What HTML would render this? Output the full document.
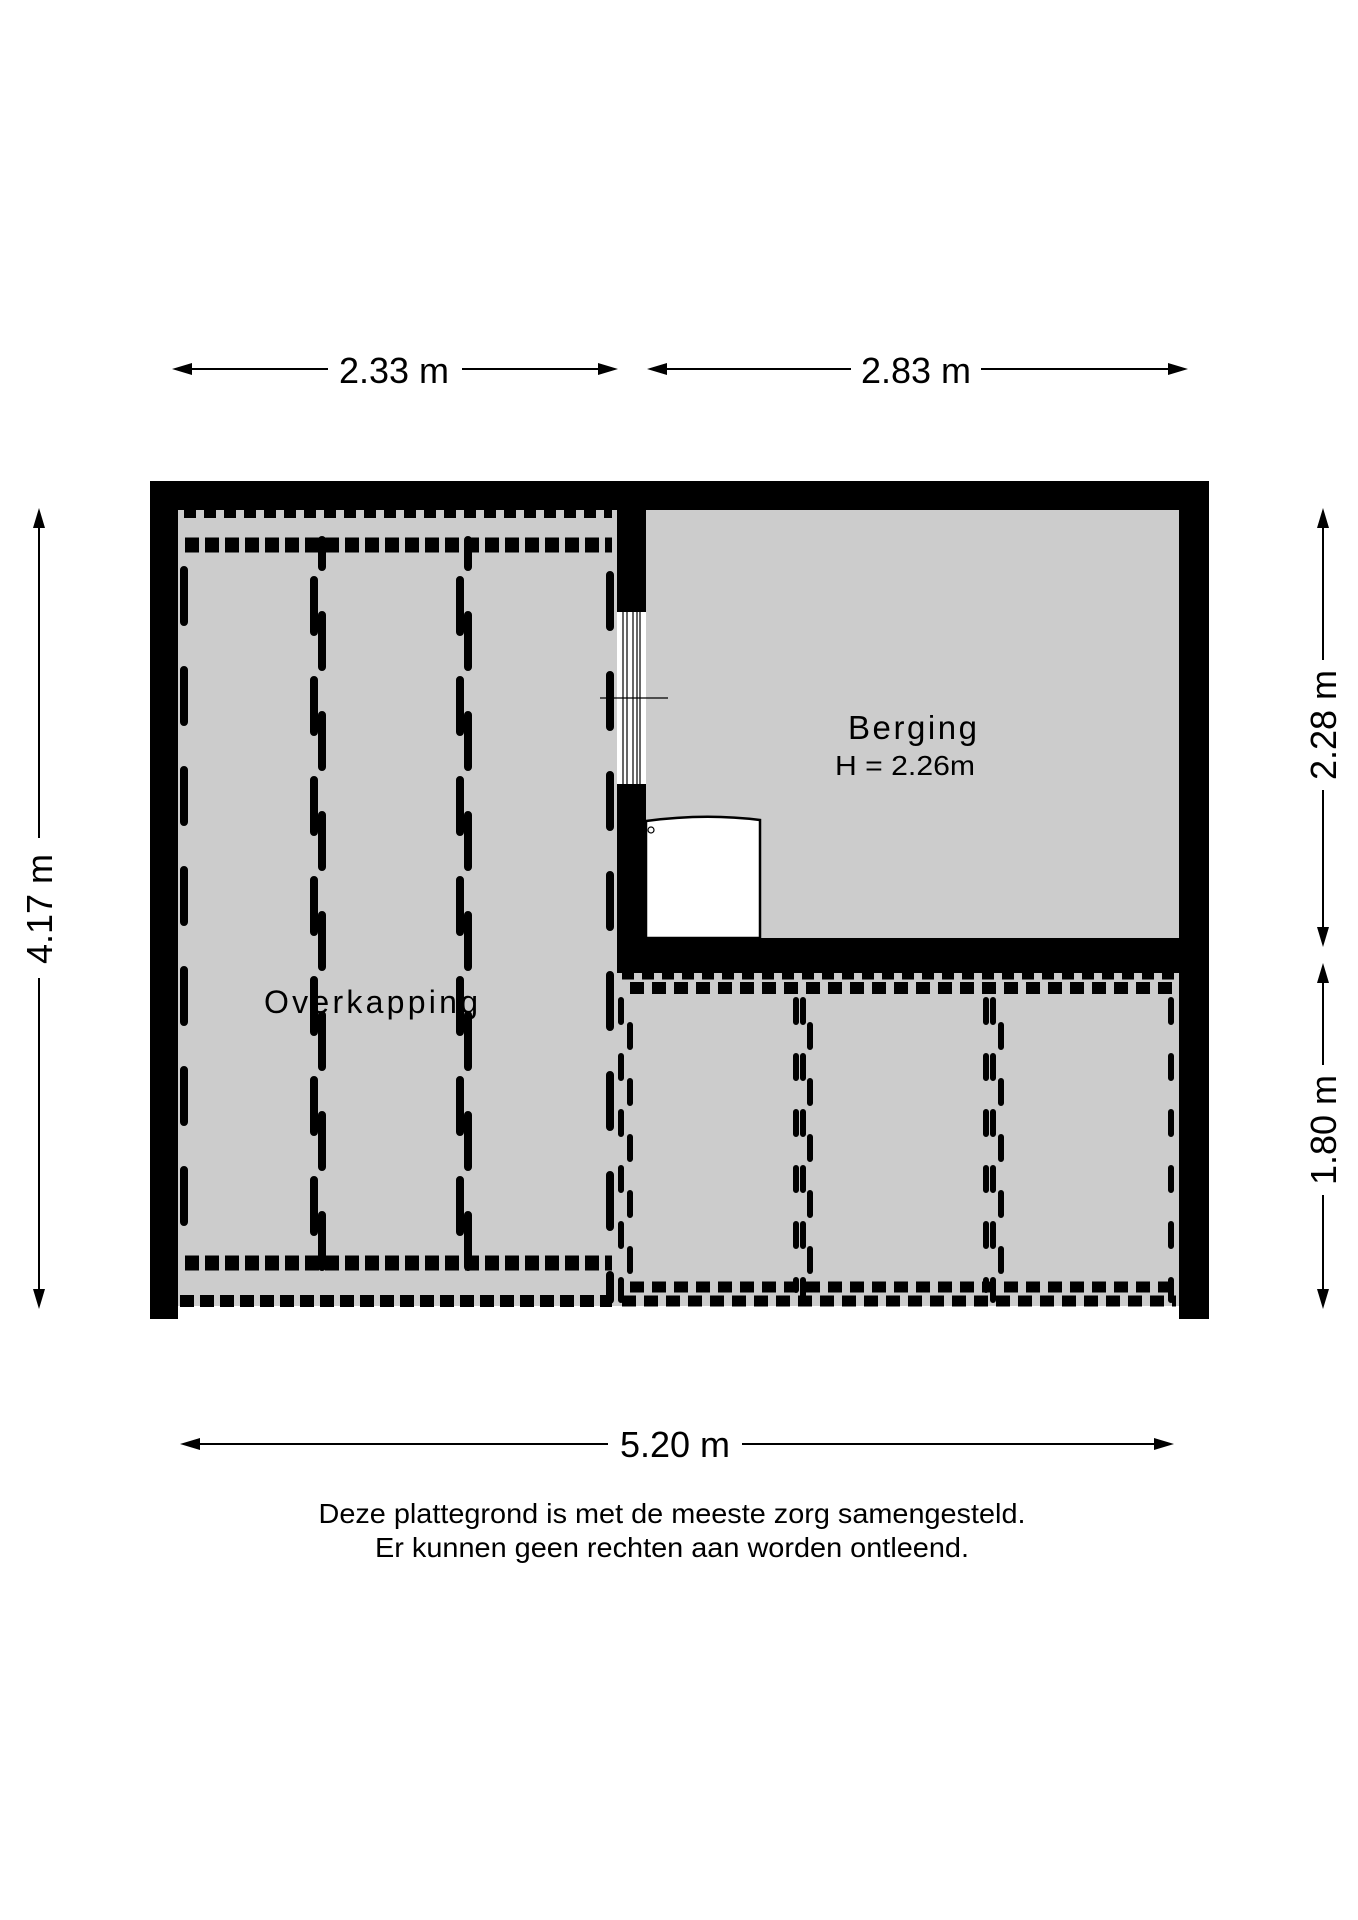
<!DOCTYPE html>
<html><head><meta charset="utf-8"><style>
html,body{margin:0;padding:0;background:#fff;}
svg{display:block;}
text{font-family:"Liberation Sans",sans-serif;fill:#000;}
</style></head><body>
<svg width="1358" height="1920" viewBox="0 0 1358 1920" xmlns="http://www.w3.org/2000/svg">
<!-- outer walls -->
<rect x="150" y="481" width="1059" height="29" fill="#000"/>
<rect x="150" y="481" width="28" height="838" fill="#000"/>
<rect x="1179" y="481" width="30" height="838" fill="#000"/>
<!-- gray floors -->
<rect x="178" y="510" width="439" height="796" fill="#cccccc"/>
<rect x="617" y="973" width="562" height="333" fill="#cccccc"/>
<rect x="646" y="510" width="533" height="428" fill="#cccccc"/>
<!-- interior walls -->
<rect x="617" y="481" width="29" height="492" fill="#000"/>
<rect x="617" y="938" width="592" height="35" fill="#000"/>
<!-- window -->
<rect x="617" y="612" width="29" height="172" fill="#fff"/>
<g stroke="#000" stroke-width="1.2">
<line x1="623" y1="612" x2="623" y2="784"/><line x1="627" y1="612" x2="627" y2="784"/>
<line x1="633" y1="612" x2="633" y2="784"/><line x1="637" y1="612" x2="637" y2="784"/>
<line x1="640" y1="612" x2="640" y2="784"/>
<line x1="600" y1="698" x2="668" y2="698"/>
</g>
<!-- door box -->
<path d="M646 821 Q705 813 760 820 L760 938 L646 938 Z" fill="#fff" stroke="#000" stroke-width="2.5"/>
<circle cx="651" cy="830" r="3" fill="#fff" stroke="#000" stroke-width="1.2"/>
<!-- dashed pattern left -->
<g stroke="#000" fill="none">
<line x1="184" y1="514" x2="612" y2="514" stroke-width="8" stroke-dasharray="12 8"/>
<line x1="185" y1="545" x2="612" y2="545" stroke-width="15" stroke-dasharray="14 6"/>
<line x1="185" y1="1263" x2="612" y2="1263" stroke-width="15" stroke-dasharray="14 6"/>
<line x1="180" y1="1301" x2="612" y2="1301" stroke-width="12" stroke-dasharray="14 6"/>
<g stroke-width="8" stroke-linecap="round" stroke-dasharray="52 48">
<line x1="184" y1="570" x2="184" y2="1250"/>
<line x1="314" y1="575" x2="314" y2="1250" stroke-dashoffset="-5"/>
<line x1="322" y1="540" x2="322" y2="1300" stroke-dashoffset="25"/>
<line x1="460" y1="575" x2="460" y2="1250" stroke-dashoffset="-5"/>
<line x1="468" y1="540" x2="468" y2="1300" stroke-dashoffset="25"/>
<line x1="610" y1="575" x2="610" y2="1300"/>
</g>
</g>
<!-- dashed pattern lower right -->
<g stroke="#000" fill="none">
<line x1="622" y1="976" x2="1179" y2="976" stroke-width="7" stroke-dasharray="12 8"/>
<line x1="630" y1="988" x2="1172" y2="988" stroke-width="12" stroke-dasharray="14 8"/>
<line x1="630" y1="1287" x2="1172" y2="1287" stroke-width="11" stroke-dasharray="14 8"/>
<line x1="622" y1="1301" x2="1176" y2="1301" stroke-width="11" stroke-dasharray="14 8"/>
<g stroke-width="6" stroke-linecap="round" stroke-dasharray="22 34">
<line x1="621" y1="1000" x2="621" y2="1300"/>
<line x1="630" y1="1025" x2="630" y2="1290"/>
<line x1="796" y1="1000" x2="796" y2="1290"/>
<line x1="803" y1="1000" x2="803" y2="1300"/>
<line x1="810" y1="1025" x2="810" y2="1290"/>
<line x1="986" y1="1000" x2="986" y2="1290"/>
<line x1="993" y1="1000" x2="993" y2="1300"/>
<line x1="1001" y1="1025" x2="1001" y2="1290"/>
<line x1="1171" y1="1000" x2="1171" y2="1300"/>
</g>
</g>
<!-- labels -->
<text x="848" y="739" font-size="33" textLength="129" lengthAdjust="spacing">Berging</text>
<text x="835" y="775" font-size="28" textLength="140" lengthAdjust="spacingAndGlyphs">H = 2.26m</text>
<text x="264" y="1013" font-size="32" textLength="214" lengthAdjust="spacing">Overkapping</text>
<!-- dimension lines -->
<g stroke="#000" stroke-width="2">
<line x1="180" y1="369" x2="328" y2="369"/><line x1="462" y1="369" x2="610" y2="369"/>
<line x1="655" y1="369" x2="851" y2="369"/><line x1="981" y1="369" x2="1180" y2="369"/>
<line x1="188" y1="1444" x2="608" y2="1444"/><line x1="742" y1="1444" x2="1166" y2="1444"/>
<line x1="39" y1="518" x2="39" y2="838"/><line x1="39" y1="978" x2="39" y2="1300"/>
<line x1="1323" y1="518" x2="1323" y2="660"/><line x1="1323" y1="790" x2="1323" y2="938"/>
<line x1="1323" y1="972" x2="1323" y2="1065"/><line x1="1323" y1="1195" x2="1323" y2="1300"/>
</g>
<g fill="#000">
<polygon points="172,369 192,363 192,375"/><polygon points="618,369 598,363 598,375"/>
<polygon points="647,369 667,363 667,375"/><polygon points="1188,369 1168,363 1168,375"/>
<polygon points="180,1444 200,1438 200,1450"/><polygon points="1174,1444 1154,1438 1154,1450"/>
<polygon points="39,508 33,528 45,528"/><polygon points="39,1309 33,1289 45,1289"/>
<polygon points="1323,508 1317,528 1329,528"/><polygon points="1323,947 1317,927 1329,927"/>
<polygon points="1323,963 1317,983 1329,983"/><polygon points="1323,1309 1317,1289 1329,1289"/>
</g>
<text x="394" y="383" font-size="36" text-anchor="middle">2.33 m</text>
<text x="916" y="383" font-size="36" text-anchor="middle">2.83 m</text>
<text x="675" y="1457" font-size="36" text-anchor="middle">5.20 m</text>
<text transform="translate(52,909) rotate(-90)" font-size="36" text-anchor="middle">4.17 m</text>
<text transform="translate(1336,725) rotate(-90)" font-size="36" text-anchor="middle">2.28 m</text>
<text transform="translate(1336,1130) rotate(-90)" font-size="36" text-anchor="middle">1.80 m</text>
<text x="672" y="1523" font-size="28" text-anchor="middle" textLength="707" lengthAdjust="spacingAndGlyphs">Deze plattegrond is met de meeste zorg samengesteld.</text>
<text x="672" y="1557" font-size="28" text-anchor="middle" textLength="594" lengthAdjust="spacingAndGlyphs">Er kunnen geen rechten aan worden ontleend.</text>
</svg>
</body></html>
